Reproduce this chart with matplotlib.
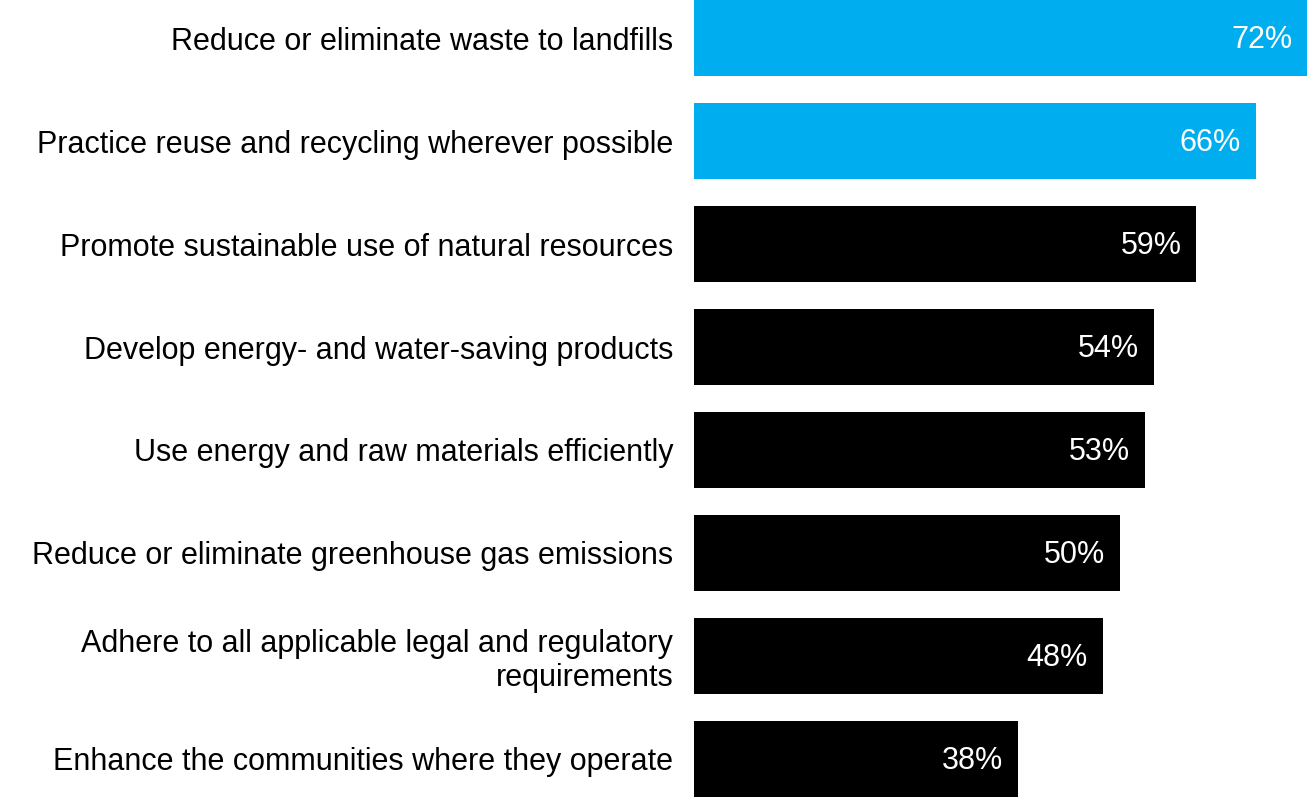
import matplotlib.pyplot as plt

categories = [
    "Reduce or eliminate waste to landfills",
    "Practice reuse and recycling wherever possible",
    "Promote sustainable use of natural resources",
    "Develop energy- and water-saving products",
    "Use energy and raw materials efficiently",
    "Reduce or eliminate greenhouse gas emissions",
    "Adhere to all applicable legal and regulatory\nrequirements",
    "Enhance the communities where they operate",
]
values = [72, 66, 59, 54, 53, 50, 48, 38]
highlight = [True, True, False, False, False, False, False, False]

plt.rcParams["font.family"] = ["Liberation Sans", "DejaVu Sans"]

fig = plt.figure(figsize=(13.07, 7.97), dpi=100)
ax = fig.add_axes([694 / 1307, 0, 1 - 694 / 1307, 1])

colors = ["#00AEEF" if h else "#000000" for h in highlight]
ypos = list(range(len(values)))
ax.barh(ypos, values, height=0.74, color=colors)

for y, v in zip(ypos, values):
    ax.text(v - 1.75, y + 0.02, f"{v}%", color="white", fontsize=22,
            ha="right", va="center")

ax.set_yticks(ypos)
ax.set_yticklabels(categories, fontsize=22, linespacing=1.15)
ax.tick_params(axis="y", length=0, pad=15)
ax.set_xticks([])
ax.set_xlim(0, 72)
ax.set_ylim(7.37, -0.37)
for s in ax.spines.values():
    s.set_visible(False)

fig.savefig("out.png", dpi=100)
